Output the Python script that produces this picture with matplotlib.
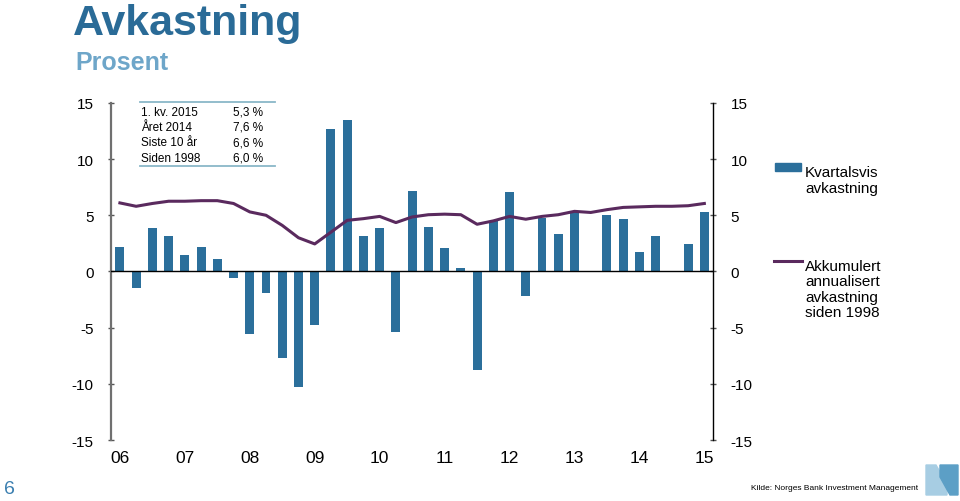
import matplotlib.pyplot as plt
from matplotlib.patches import Polygon

# data: quarterly return 2006Q1 - 2015Q1 (percent)
quarters = list(range(37))
kvartalsvis = [2.2, -1.5, 3.9, 3.2, 1.5, 2.2, 1.1, -0.6, -5.6, -1.9,
               -7.7, -10.3, -4.8, 12.7, 13.5, 3.2, 3.9, -5.4, 7.2, 4.0,
               2.1, 0.3, -8.8, 4.5, 7.1, -2.2, 4.8, 3.3, 5.3, 0.05,
               5.0, 4.7, 1.7, 3.2, 0.05, 2.4, 5.3]
akkumulert = [6.1, 5.8, 6.05, 6.25, 6.25, 6.3, 6.3, 6.05, 5.3, 5.0,
              4.1, 3.0, 2.45, 3.5, 4.55, 4.7, 4.9, 4.35, 4.85, 5.05,
              5.1, 5.05, 4.2, 4.5, 4.9, 4.65, 4.9, 5.05, 5.35, 5.25,
              5.5, 5.7, 5.75, 5.8, 5.8, 5.85, 6.05]
year_labels = ["06", "07", "08", "09", "10", "11", "12", "13", "14", "15"]
yticks = [-15, -10, -5, 0, 5, 10, 15]
table_rows = ["1. kv. 2015", "Året 2014", "Siste 10 år", "Siden 1998"]
table_vals = ["5,3 %", "7,6 %", "6,6 %", "6,0 %"]

bar_color = "#2b6f9b"
line_color = "#5a2a5e"
title_color = "#2a6b97"

plt.rcParams['font.family'] = ['Liberation Sans', 'DejaVu Sans']

fig = plt.figure(figsize=(9.6, 5.02), dpi=100)
ax = fig.add_axes([0.1156, 0.1215, 0.6274, 0.6715])

ax.bar(quarters, kvartalsvis, width=0.55, color=bar_color, zorder=2)
ax.plot(quarters, akkumulert, color=line_color, linewidth=2.2, zorder=3)
ax.axhline(0, color="black", linewidth=1, zorder=4)

ax.set_xlim(-0.55, 36.55)
ax.set_ylim(-15, 15)
ax.set_yticks(yticks)
ax.set_yticklabels([str(v) for v in yticks], fontsize=11)
ax.set_xticks(quarters[::4])
ax.set_xticklabels(year_labels, fontsize=12.5)
ax.tick_params(axis="x", length=0, pad=7)
ax.tick_params(axis="y", direction="inout", length=5, width=1, color="#555555",
               left=True, right=True, labelleft=True, labelright=True, pad=10)

ax.spines["top"].set_visible(False)
ax.spines["bottom"].set_visible(False)
ax.spines["left"].set_color("#707070")
ax.spines["left"].set_linewidth(1.6)
ax.spines["right"].set_color("black")
ax.spines["right"].set_linewidth(1)

# small table in the top left
tx0, tx1 = 140 / 960, 275 / 960
fig.add_artist(plt.Line2D([tx0, tx1], [1 - 103 / 502] * 2, color="#8ab8c8", lw=1.3))
fig.add_artist(plt.Line2D([tx0, tx1], [1 - 167 / 502] * 2, color="#8ab8c8", lw=1.3))
for i, (r, v) in enumerate(zip(table_rows, table_vals)):
    yy = 1 - (112.5 + i * 15.5) / 502
    fig.text(141 / 960, yy, r, fontsize=8.5, va="center", ha="left")
    fig.text(263 / 960, yy, v, fontsize=8.5, va="center", ha="right")

# titles
fig.text(73 / 960, 1 - 24 / 502, "Avkastning", fontsize=31, fontweight="bold",
         color=title_color, va="center", ha="left")
fig.text(75 / 960, 1 - 63 / 502, "Prosent", fontsize=18, fontweight="bold",
         color="#6ea6c9", va="center", ha="left")

# legend
fig.add_artist(plt.Rectangle((775 / 960, 1 - 172 / 502), 26 / 960, 8 / 502,
                             color=bar_color, transform=fig.transFigure))
fig.text(805 / 960, 1 - 181 / 502, "Kvartalsvis\navkastning", fontsize=11,
         va="center", ha="left", linespacing=1.15)
fig.add_artist(plt.Line2D([774 / 960, 802 / 960], [1 - 262 / 502] * 2,
                          color=line_color, lw=2.2))
fig.text(805 / 960, 1 - 290 / 502, "Akkumulert\nannualisert\navkastning\nsiden 1998",
         fontsize=11, va="center", ha="left", linespacing=1.15)

# footer
fig.text(9 / 960, 1 - 490 / 502, "6", fontsize=14, color="#3b7fb0",
         va="center", ha="center")
fig.text(918 / 960, 1 - 489 / 502, "Kilde: Norges Bank Investment Management",
         fontsize=6, va="center", ha="right")

# logo
def fp(x, y):
    return (x / 960, 1 - y / 502)

fig.add_artist(Polygon([fp(926, 466), fp(936, 466), fp(947, 485), fp(947, 496), fp(926, 496)],
                       closed=True, color="#a7cde3", transform=fig.transFigure))
fig.add_artist(Polygon([fp(940, 466), fp(958, 466), fp(958, 496), fp(950, 496), fp(940, 478)],
                       closed=True, color="#5c9fc6", transform=fig.transFigure))

fig.savefig("out.png", dpi=100)
